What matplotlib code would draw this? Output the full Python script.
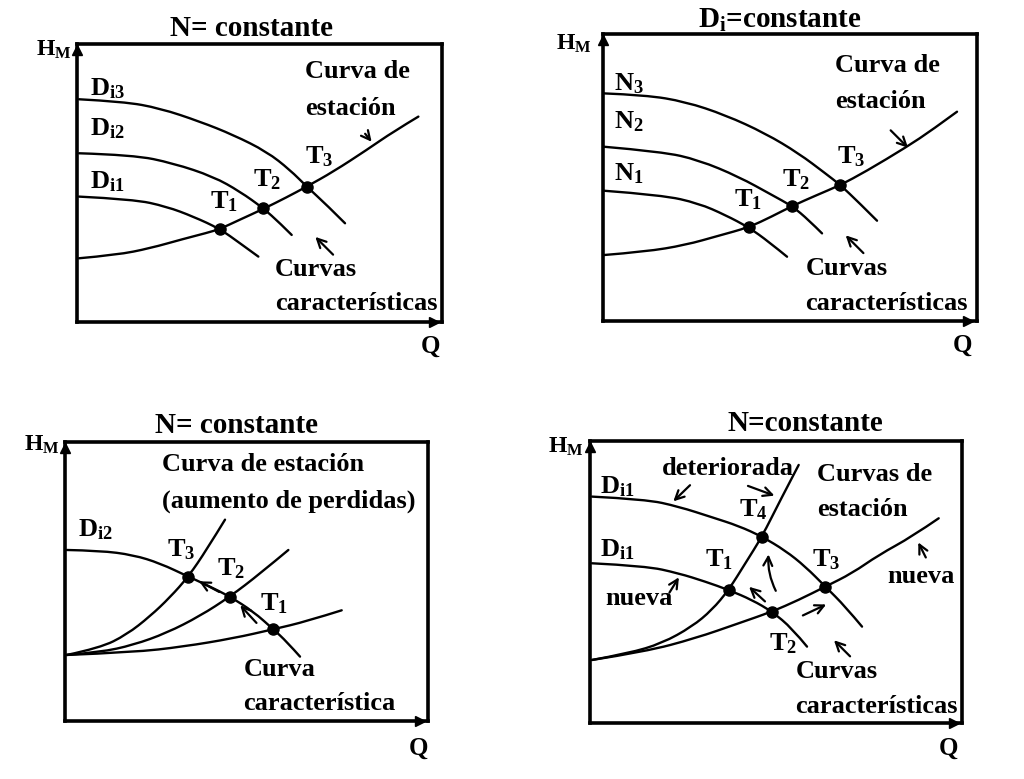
import matplotlib
matplotlib.use('Agg')
from matplotlib import pyplot as plt
from matplotlib.path import Path
from matplotlib.patches import PathPatch

plt.rcParams['font.family'] = ['Liberation Serif', 'DejaVu Serif']
plt.rcParams['font.weight'] = 'bold'
plt.rcParams['mathtext.fontset'] = 'custom'
plt.rcParams['mathtext.rm'] = 'Liberation Serif:bold'
plt.rcParams['mathtext.it'] = 'Liberation Serif:bold'
plt.rcParams['mathtext.bf'] = 'Liberation Serif:bold'

# ---- Panel 1: N = constante, varios diametros (unidades arbitrarias) ----
p1_di3_q = [5, 138, 248, 368, 468, 568, 638, 688, 748, 803]
p1_di3_h = [669, 662, 642, 602, 562, 512, 457, 407, 352, 297]
p1_di2_q = [5, 168, 288, 408, 488, 558, 608, 643]
p1_di2_h = [507, 502, 477, 437, 392, 342, 297, 262]
p1_di1_q = [5, 168, 268, 348, 428, 488, 543]
p1_di1_h = [377, 369, 347, 317, 280, 237, 197]
p1_est_q = [5, 118, 218, 318, 388, 428, 488, 558, 628, 688, 768, 868, 948, 1023]
p1_est_h = [192, 202, 222, 250, 268, 280, 308, 340, 375, 407, 452, 517, 572, 617]
p1_t_q = [428, 558, 688]
p1_t_h = [280, 342, 407]

# ---- Panel 2: Di = constante, varias velocidades ----
p2_n3_q = [3, 128, 248, 368, 488, 588, 668, 713, 768, 823]
p2_n3_h = [682, 677, 657, 617, 562, 502, 442, 407, 355, 300]
p2_n2_q = [3, 178, 288, 408, 508, 568, 618, 658]
p2_n2_h = [522, 507, 482, 432, 377, 344, 302, 262]
p2_n1_q = [3, 178, 288, 368, 438, 498, 553]
p2_n1_h = [390, 377, 352, 317, 280, 237, 192]
p2_est_q = [3, 128, 248, 348, 438, 508, 568, 638, 713, 788, 913, 988, 1063]
p2_est_h = [197, 207, 227, 255, 280, 313, 344, 375, 407, 447, 522, 572, 627]
p2_t_q = [438, 568, 713]
p2_t_h = [280, 344, 407]

# ---- Panel 3: aumento de perdidas ----
p3_car_q = [5, 105, 205, 285, 370, 425, 495, 565, 625, 665, 705]
p3_car_h = [514, 512, 499, 474, 434, 409, 374, 329, 276, 239, 194]
p3_est1_q = [5, 205, 355, 505, 625, 725, 830]
p3_est1_h = [199, 207, 224, 249, 276, 300, 333]
p3_est2_q = [5, 105, 205, 305, 405, 495, 585, 670]
p3_est2_h = [199, 207, 229, 265, 316, 374, 443, 514]
p3_est3_q = [5, 105, 185, 255, 315, 370, 425, 480]
p3_est3_h = [199, 220, 260, 315, 372, 434, 515, 605]
p3_t_q = [625, 495, 370]
p3_t_h = [276, 374, 434]

# ---- Panel 4: bomba nueva / deteriorada ----
p4_car_sup_q = [5, 165, 265, 365, 445, 515, 585, 645, 705, 765, 815]
p4_car_sup_h = [680, 672, 650, 618, 592, 560, 518, 470, 410, 350, 290]
p4_car_inf_q = [5, 165, 265, 345, 415, 485, 545, 605, 650]
p4_car_inf_h = [480, 472, 450, 425, 400, 370, 335, 285, 230]
p4_det_q = [5, 115, 215, 305, 365, 415, 465, 515, 565, 625]
p4_det_h = [190, 210, 240, 290, 340, 400, 480, 560, 660, 775]
p4_nue_q = [5, 165, 315, 445, 545, 625, 705, 785, 865, 965, 1045]
p4_nue_h = [190, 215, 255, 300, 335, 370, 410, 450, 505, 560, 615]
p4_t_q = [415, 545, 705, 515]
p4_t_h = [400, 335, 410, 560]

FS = 19


def marco(ax, ancho, alto, titulo, tit_q, tit_h, hm_q, hm_h, q_q, q_h):
    ax.set_xlim(0, ancho)
    ax.set_ylim(0, alto)
    ax.set_xticks([])
    ax.set_yticks([])
    for s in ax.spines.values():
        s.set_linewidth(2.6)
    ax.plot([0], [alto - 18], marker='^', ms=7, color='k', clip_on=False)
    ax.plot([ancho - 25], [0], marker='>', ms=7, color='k', clip_on=False)
    ax.text(tit_q, tit_h, titulo, fontsize=21, ha='center', va='center')
    ax.text(hm_q, hm_h, r'$\mathrm{H_M}$', fontsize=17, ha='right', va='center')
    ax.text(q_q, q_h, 'Q', fontsize=18, ha='center', va='center')


def curva(ax, q, h):
    # trazo suave (bezier cuadratica) a traves de los puntos leidos
    pts = list(zip(q, h))
    verts = [pts[0]]
    codes = [Path.MOVETO]
    n = len(pts)
    for i in range(1, n - 1):
        if i == n - 2:
            fin = pts[n - 1]
        else:
            fin = ((pts[i][0] + pts[i + 1][0]) / 2, (pts[i][1] + pts[i + 1][1]) / 2)
        verts += [pts[i], fin]
        codes += [Path.CURVE3, Path.CURVE3]
    if n == 2:
        verts.append(pts[1])
        codes.append(Path.LINETO)
    ax.add_patch(PathPatch(Path(verts, codes), facecolor='none',
                           edgecolor='k', lw=1.7, capstyle='round'))


def puntos(ax, q, h):
    ax.plot(q, h, 'o', color='k', ms=8, zorder=5)


def flecha(ax, cola, punta, rad=0.0):
    ax.annotate('', xy=punta, xytext=cola,
                arrowprops=dict(arrowstyle='->', lw=1.6, color='k',
                                mutation_scale=16,
                                connectionstyle=f'arc3,rad={rad}'))


fig = plt.figure(figsize=(10.24, 7.79), dpi=100)

# Panel 1
ax1 = fig.add_axes([0.0755, 0.5863, 0.3562, 0.3573])
marco(ax1, 1094, 835, 'N= constante', 523, 882, -17, 817, 1058, -73)
for q, h in [(p1_di3_q, p1_di3_h), (p1_di2_q, p1_di2_h),
             (p1_di1_q, p1_di1_h), (p1_est_q, p1_est_h)]:
    curva(ax1, q, h)
puntos(ax1, p1_t_q, p1_t_h)
ax1.text(38, 702, r'$\mathrm{D_{i3}}$', fontsize=FS, va='center')
ax1.text(38, 582, r'$\mathrm{D_{i2}}$', fontsize=FS, va='center')
ax1.text(38, 422, r'$\mathrm{D_{i1}}$', fontsize=FS, va='center')
ax1.text(398, 362, r'$\mathrm{T_1}$', fontsize=FS, va='center')
ax1.text(528, 427, r'$\mathrm{T_2}$', fontsize=FS, va='center')
ax1.text(683, 497, r'$\mathrm{T_3}$', fontsize=FS, va='center')
ax1.text(683, 752, 'Curva de', fontsize=FS, va='center')
ax1.text(683, 642, 'estación', fontsize=FS, va='center')
flecha(ax1, (858, 572), (888, 535))
ax1.text(593, 157, 'Curvas', fontsize=FS, va='center')
ax1.text(593, 57, 'características', fontsize=FS, va='center')
flecha(ax1, (773, 197), (708, 262))

# Panel 2
ax2 = fig.add_axes([0.5886, 0.5883, 0.3652, 0.368])
marco(ax2, 1122, 860, r'$\mathrm{D_i}$=constante', 530, 902, -32, 832, 1078, -73)
for q, h in [(p2_n3_q, p2_n3_h), (p2_n2_q, p2_n2_h),
             (p2_n1_q, p2_n1_h), (p2_est_q, p2_est_h)]:
    curva(ax2, q, h)
puntos(ax2, p2_t_q, p2_t_h)
ax2.text(33, 712, r'$\mathrm{N_3}$', fontsize=FS, va='center')
ax2.text(33, 597, r'$\mathrm{N_2}$', fontsize=FS, va='center')
ax2.text(33, 442, r'$\mathrm{N_1}$', fontsize=FS, va='center')
ax2.text(393, 362, r'$\mathrm{T_1}$', fontsize=FS, va='center')
ax2.text(538, 422, r'$\mathrm{T_2}$', fontsize=FS, va='center')
ax2.text(703, 492, r'$\mathrm{T_3}$', fontsize=FS, va='center')
ax2.text(698, 767, 'Curva de', fontsize=FS, va='center')
ax2.text(698, 657, 'estación', fontsize=FS, va='center')
flecha(ax2, (858, 577), (922, 513))
ax2.text(608, 157, 'Curvas', fontsize=FS, va='center')
ax2.text(608, 52, 'características', fontsize=FS, va='center')
flecha(ax2, (788, 197), (723, 262))

# Panel 3
ax3 = fig.add_axes([0.0635, 0.0741, 0.3545, 0.3585])
marco(ax3, 1089, 838, 'N= constante', 515, 889, -15, 829, 1060, -81)
for q, h in [(p3_car_q, p3_car_h), (p3_est1_q, p3_est1_h),
             (p3_est2_q, p3_est2_h), (p3_est3_q, p3_est3_h)]:
    curva(ax3, q, h)
puntos(ax3, p3_t_q, p3_t_h)
ax3.text(40, 574, r'$\mathrm{D_{i2}}$', fontsize=FS, va='center')
ax3.text(305, 514, r'$\mathrm{T_3}$', fontsize=FS, va='center')
ax3.text(455, 459, r'$\mathrm{T_2}$', fontsize=FS, va='center')
ax3.text(585, 354, r'$\mathrm{T_1}$', fontsize=FS, va='center')
ax3.text(290, 769, 'Curva de estación', fontsize=FS, va='center')
ax3.text(290, 659, '(aumento de perdidas)', fontsize=FS, va='center')
ax3.text(535, 154, 'Curva', fontsize=FS, va='center')
ax3.text(535, 54, 'característica', fontsize=FS, va='center')
flecha(ax3, (470, 384), (395, 424))
flecha(ax3, (580, 289), (520, 354))

# Panel 4
ax4 = fig.add_axes([0.5765, 0.0715, 0.363, 0.3629])
marco(ax4, 1115, 848, 'N=constante', 645, 900, -20, 830, 1075, -75)
for q, h in [(p4_car_sup_q, p4_car_sup_h), (p4_car_inf_q, p4_car_inf_h),
             (p4_det_q, p4_det_h), (p4_nue_q, p4_nue_h)]:
    curva(ax4, q, h)
puntos(ax4, p4_t_q, p4_t_h)
ax4.text(30, 710, r'$\mathrm{D_{i1}}$', fontsize=FS, va='center')
ax4.text(30, 520, r'$\mathrm{D_{i1}}$', fontsize=FS, va='center')
ax4.text(345, 490, r'$\mathrm{T_1}$', fontsize=FS, va='center')
ax4.text(535, 240, r'$\mathrm{T_2}$', fontsize=FS, va='center')
ax4.text(665, 490, r'$\mathrm{T_3}$', fontsize=FS, va='center')
ax4.text(445, 640, r'$\mathrm{T_4}$', fontsize=FS, va='center')
ax4.text(215, 765, 'deteriorada', fontsize=FS, va='center')
ax4.text(680, 745, 'Curvas de', fontsize=FS, va='center')
ax4.text(680, 640, 'estación', fontsize=FS, va='center')
ax4.text(45, 375, 'nueva', fontsize=FS, va='center')
ax4.text(890, 440, 'nueva', fontsize=FS, va='center')
ax4.text(615, 155, 'Curvas', fontsize=FS, va='center')
ax4.text(615, 50, 'características', fontsize=FS, va='center')
flecha(ax4, (305, 720), (243, 660))
flecha(ax4, (465, 715), (560, 680))
flecha(ax4, (233, 385), (270, 445))
flecha(ax4, (1010, 490), (980, 550))
flecha(ax4, (560, 390), (535, 515), rad=-0.15)
flecha(ax4, (530, 360), (470, 415))
flecha(ax4, (630, 320), (715, 360))
flecha(ax4, (785, 195), (725, 255))

fig.savefig('out.png', dpi=100, facecolor='white')
